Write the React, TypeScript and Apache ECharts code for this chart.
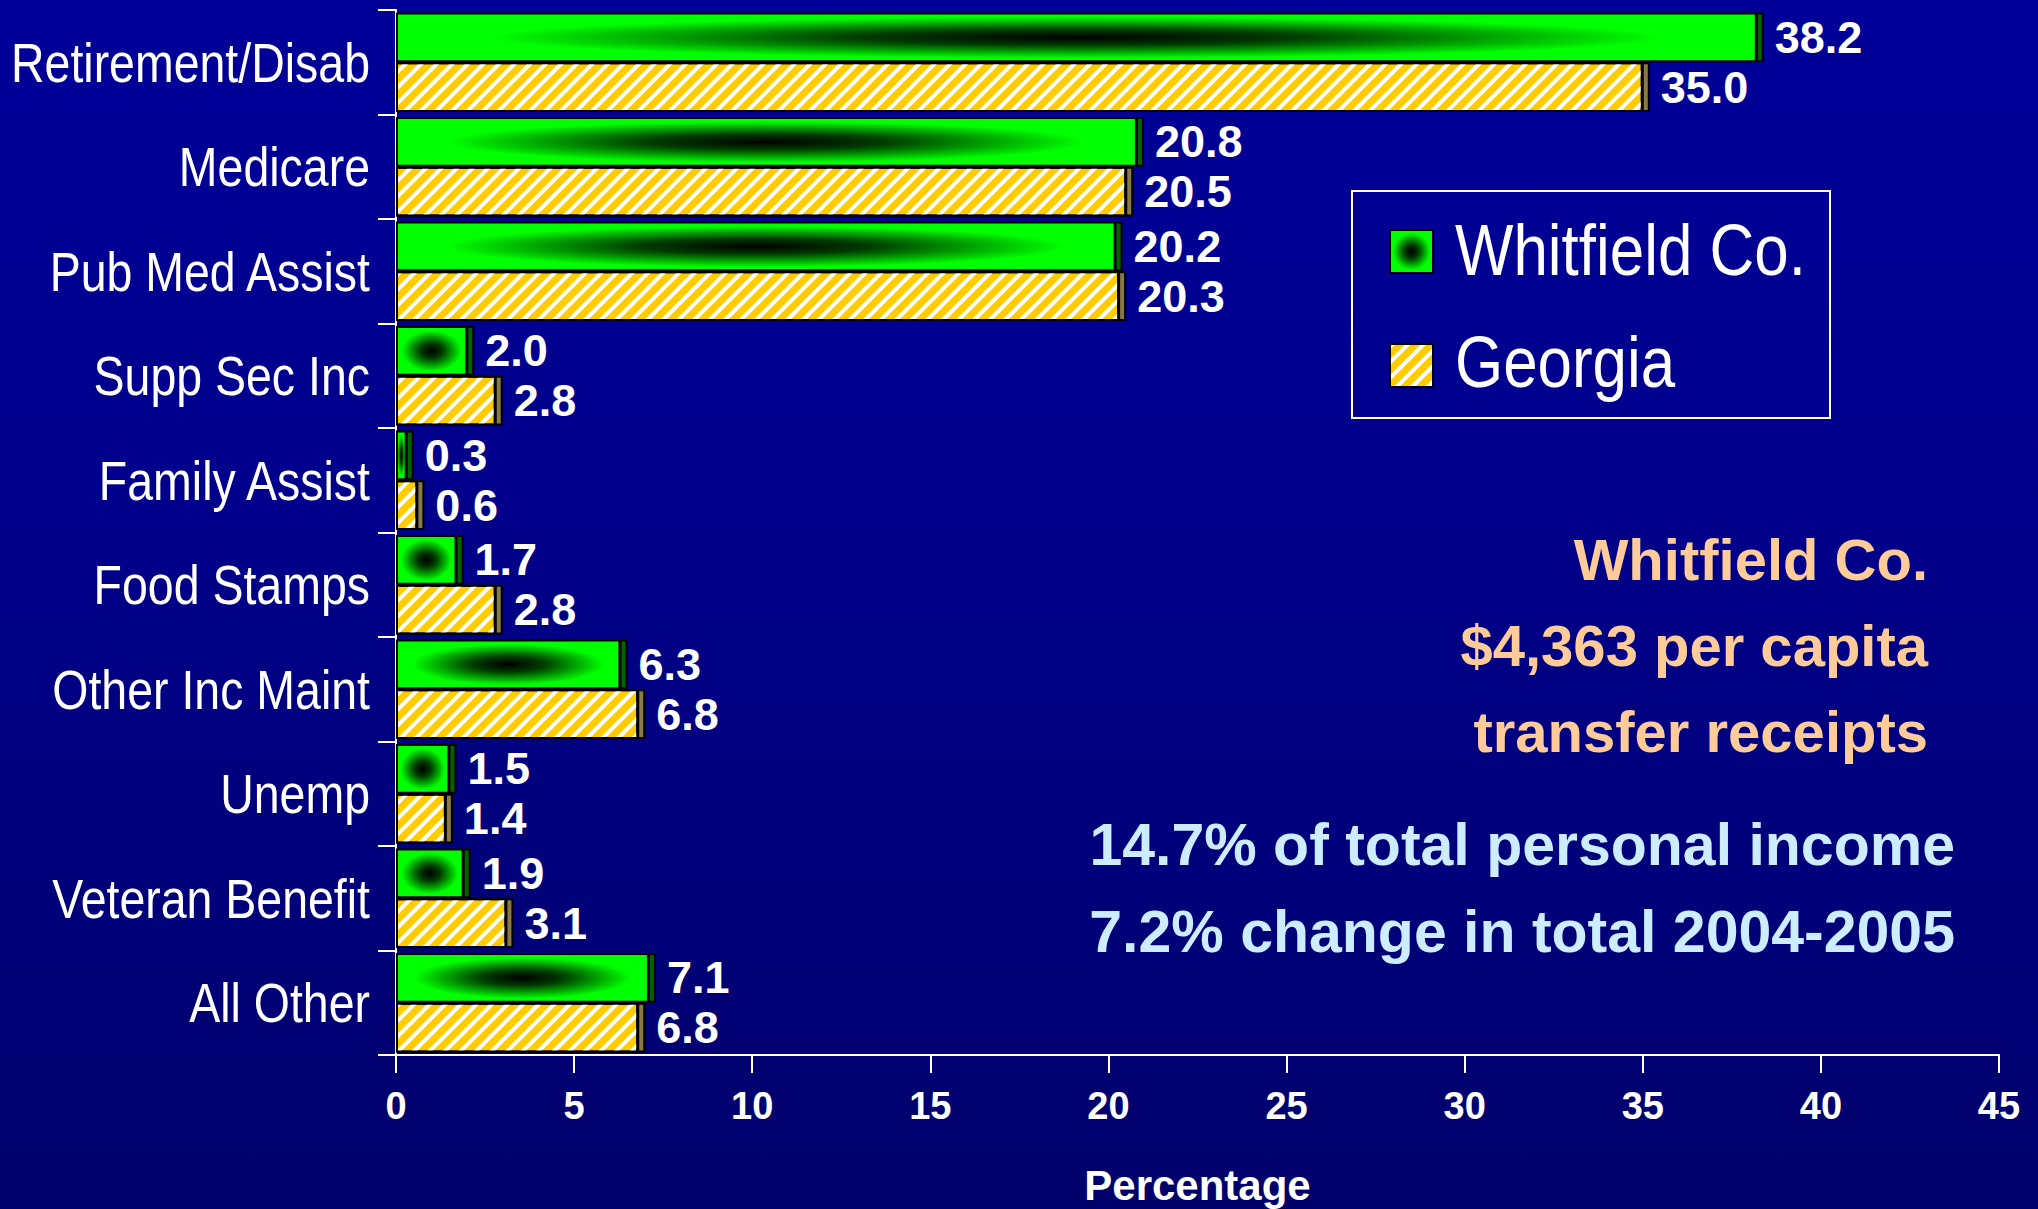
import React, { useEffect, useRef } from "react";
import * as echarts from "echarts";

const categories = [
  "Retirement/Disab",
  "Medicare",
  "Pub Med Assist",
  "Supp Sec Inc",
  "Family Assist",
  "Food Stamps",
  "Other Inc Maint",
  "Unemp",
  "Veteran Benefit",
  "All Other",
];
const whitfield = [38.2, 20.8, 20.2, 2.0, 0.3, 1.7, 6.3, 1.5, 1.9, 7.1];
const georgia = [35.0, 20.5, 20.3, 2.8, 0.6, 2.8, 6.8, 1.4, 3.1, 6.8];
const seriesNames = ["Whitfield Co.", "Georgia"];
const axisMin = 0;
const axisMax = 45;
const axisStep = 5;
const axisName = "Percentage";
const noteLines = ["Whitfield Co.", "$4,363 per capita", "transfer receipts"];
const statLines = ["14.7% of total personal income", "7.2% change in total 2004-2005"];

const SANS = "'Liberation Sans', Arial, Helvetica, sans-serif";
const NARROW_SCALE = 0.83;
const CATEGORY_GAP = 0.05;

export default function App() {
  const ref = useRef<HTMLDivElement>(null);

  useEffect(() => {
    if (!ref.current) return;
    const chart = echarts.init(ref.current, null, { renderer: "svg" });

    const greenFill = new echarts.graphic.RadialGradient(0.5, 0.5, 0.5, [
      { offset: 0, color: "#000000" },
      { offset: 0.32, color: "#003c00" },
      { offset: 0.62, color: "#00a800" },
      { offset: 0.86, color: "#00ff00" },
      { offset: 1, color: "#00ff00" },
    ]);

    const valueLabel = {
      show: true,
      position: "right",
      distance: 18,
      color: "#ffffff",
      fontSize: 45,
      fontWeight: "bold",
      fontFamily: SANS,
      formatter: (p: any) => Number(p.value).toFixed(1),
    };

    const sideData: number[][] = [];
    whitfield.forEach((v, i) => sideData.push([v, i, 0]));
    georgia.forEach((v, i) => sideData.push([v, i, 1]));

    const option: any = {
      animation: false,
      backgroundColor: "transparent",
      grid: {
        left: 396,
        right: 39,
        top: 10,
        bottom: 154,
        containLabel: false,
        outerBoundsMode: "none",
      },
      legend: {
        data: seriesNames,
        orient: "vertical",
        left: 1389,
        top: 229,
        padding: 0,
        itemWidth: 43,
        itemHeight: 43,
        itemGap: 69,
        icon: "rect",
        formatter: () => "",
        itemStyle: { shadowColor: "transparent", shadowOffsetX: 0, borderWidth: 2, borderColor: "#000" },
        textStyle: { color: "#ffffff", fontSize: 10 },
      },
      xAxis: {
        type: "value",
        min: axisMin,
        max: axisMax,
        interval: axisStep,
        axisLine: { show: true, lineStyle: { color: "#ffffff", width: 2 } },
        axisTick: { show: true, length: 18, lineStyle: { color: "#ffffff", width: 2 } },
        splitLine: { show: false },
        axisLabel: {
          color: "#ffffff",
          fontSize: 38,
          fontWeight: "bold",
          fontFamily: SANS,
          margin: 32,
        },
        name: axisName,
        nameLocation: "middle",
        nameGap: 109,
        nameTextStyle: { color: "#ffffff", fontSize: 42, fontWeight: "bold", fontFamily: SANS },
      },
      yAxis: {
        type: "category",
        data: categories,
        inverse: true,
        axisLine: { show: true, lineStyle: { color: "#ffffff", width: 2 } },
        axisTick: { show: true, length: 18, lineStyle: { color: "#ffffff", width: 2 } },
        axisLabel: { show: false },
      },
      series: [
        {
          name: seriesNames[0],
          type: "bar",
          data: whitfield,
          barGap: "0%",
          barCategoryGap: `${CATEGORY_GAP * 100}%`,
          itemStyle: {
            color: greenFill,
            borderColor: "#000000",
            borderWidth: 2,
          },
          label: valueLabel,
          z: 3,
        },
        {
          name: seriesNames[1],
          type: "bar",
          data: georgia,
          barGap: "0%",
          barCategoryGap: `${CATEGORY_GAP * 100}%`,
          itemStyle: {
            color: "#ffcc00",
            borderColor: "#000000",
            borderWidth: 2,
            decal: {
              symbol: "rect",
              symbolSize: 1,
              dashArrayX: [1, 0],
              dashArrayY: [4, 7],
              rotation: -Math.PI / 4,
              color: "#ffffff",
            },
          },
          label: valueLabel,
          z: 3,
        },
        {
          name: "side",
          type: "custom",
          data: sideData,
          encode: { x: 0, y: 1 },
          z: 2,
          silent: true,
          renderItem: (params: any, api: any) => {
            const val = api.value(0);
            const idx = api.value(1);
            const which = api.value(2);
            const pt = api.coord([val, idx]);
            const band = api.size([0, 1])[1];
            const barH = (band * (1 - CATEGORY_GAP)) / 2;
            const top = which === 0 ? pt[1] - barH : pt[1];
            return {
              type: "rect",
              shape: { x: pt[0], y: top + 1, width: 6, height: barH - 2 },
              style: {
                fill: which === 0 ? "#006400" : "#8a7a46",
                stroke: "#000000",
                lineWidth: 2,
              },
            };
          },
        },
      ],
    };

    chart.setOption(option);

    const graphics: any[] = [
      {
        type: "rect",
        shape: { x: 1352, y: 191, width: 478, height: 227 },
        style: { fill: "none", stroke: "#ffffff", lineWidth: 2 },
        z: 10,
      },
      ...seriesNames.map((t, i) => ({
        type: "text",
        x: 1455,
        y: 250 + i * 112,
        scaleX: 0.86,
        style: {
          text: t,
          fill: "#ffffff",
          font: `72px ${SANS}`,
          textAlign: "left",
          verticalAlign: "middle",
        },
      })),
      ...categories.map((c, i) => ({
        type: "text",
        x: 370,
        y: chart.convertToPixel({ yAxisIndex: 0 }, i) as number,
        scaleX: NARROW_SCALE,
        style: {
          text: c,
          fill: "#ffffff",
          font: `56px ${SANS}`,
          textAlign: "right",
          verticalAlign: "middle",
        },
      })),
      ...noteLines.map((t, i) => ({
        type: "text",
        x: 1928,
        y: 559 + i * 86,
        style: {
          text: t,
          fill: "#ffcc99",
          font: `bold 58px ${SANS}`,
          textAlign: "right",
          verticalAlign: "middle",
        },
      })),
      ...statLines.map((t, i) => ({
        type: "text",
        x: 1955,
        y: 845 + i * 87,
        style: {
          text: t,
          fill: "#ccecff",
          font: `bold 59px ${SANS}`,
          textAlign: "right",
          verticalAlign: "middle",
        },
      })),
    ];

    chart.setOption({ graphic: graphics });
    return () => chart.dispose();
  }, []);

  return (
    <div
      ref={ref}
      style={{
        position: "fixed",
        left: 0,
        top: 0,
        width: 2038,
        height: 1209,
        background: "linear-gradient(to bottom, #000099 0%, #00008c 40%, #00006b 100%)",
      }}
    />
  );
}
